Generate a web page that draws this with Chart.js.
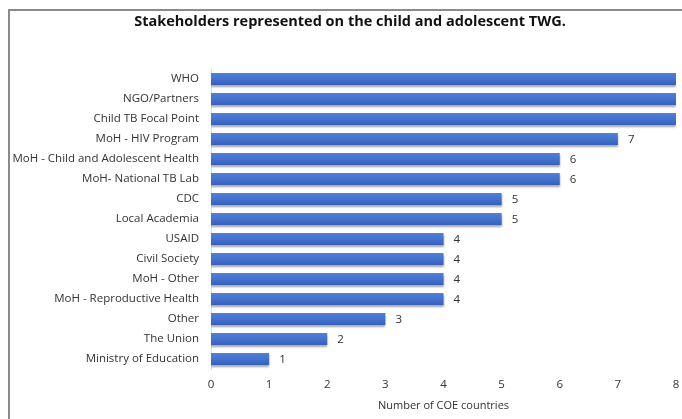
<!DOCTYPE html>
<html>
<head>
<meta charset="utf-8">
<script src="https://cdn.jsdelivr.net/npm/chart.js@4/dist/chart.umd.min.js"></script>
<style>
  html, body { margin: 0; padding: 0; background: #fff; }
  #wrap { position: relative; width: 682px; height: 419px; overflow: hidden; }
  #frame { position: absolute; left: 8px; top: 9px; width: 700px; height: 440px; border-left: 2px solid #8a8a8a; border-top: 2px solid #8a8a8a; box-sizing: border-box; }
  canvas { position: absolute; left: 0; top: 0; }
</style>
</head>
<body>
<div id="wrap">
  <div id="frame"></div>
  <canvas id="chartCanvas" width="682" height="419"></canvas>
</div>
<script>
const chartTitle = 'Stakeholders represented on the child and adolescent TWG.';
const stakeholders = [
  'WHO', 'NGO/Partners', 'Child TB Focal Point', 'MoH - HIV Program',
  'MoH - Child and Adolescent Health', 'MoH- National TB Lab', 'CDC', 'Local Academia',
  'USAID', 'Civil Society', 'MoH - Other', 'MoH - Reproductive Health',
  'Other', 'The Union', 'Ministry of Education'
];
const countries = [8, 8, 8, 7, 6, 6, 5, 5, 4, 4, 4, 4, 3, 2, 1];
const axisTicks = [0, 1, 2, 3, 4, 5, 6, 7, 8];

const FONT = '"Open Sans", "Noto Sans", sans-serif';

// title sits over the framed box, not the whole canvas, so draw it by hand
const boxTitle = {
  id: 'boxTitle',
  afterDraw(chart) {
    const c = chart.ctx;
    c.save();
    c.font = 'bold 14.5px ' + FONT;
    c.fillStyle = '#111';
    c.textAlign = 'center';
    c.textBaseline = 'middle';
    c.fillText(chartTitle, 350, 22);
    c.restore();
  }
};

// soft drop shadow under the bars, like the Excel original
const barShadow = {
  id: 'barShadow',
  beforeDatasetsDraw(chart) {
    const c = chart.ctx;
    c.save();
    c.shadowColor = 'rgba(0,0,0,0.35)';
    c.shadowBlur = 2;
    c.shadowOffsetY = 2;
  },
  afterDatasetsDraw(chart) {
    chart.ctx.restore();
  }
};

// value next to each bar end (Excel-style data labels)
const valueLabels = {
  id: 'valueLabels',
  afterDatasetsDraw(chart) {
    const c = chart.ctx;
    const meta = chart.getDatasetMeta(0);
    c.save();
    c.font = '11.5px ' + FONT;
    c.fillStyle = '#333';
    c.textBaseline = 'middle';
    meta.data.forEach((bar, i) => {
      const x = bar.x + 10;
      if (x > chart.chartArea.right) return;
      c.fillText(String(countries[i]), x, bar.y + 1);
    });
    c.restore();
  }
};

// vertical gradient inside each bar
function barFill(context) {
  const chart = context.chart;
  const yScale = chart.scales && chart.scales.y;
  if (!chart.chartArea || !yScale) return '#4472CC';
  const cy = yScale.getPixelForValue(context.dataIndex);
  if (!Number.isFinite(cy)) return '#4472CC';
  const g = chart.ctx.createLinearGradient(0, cy - 6, 0, cy + 6);
  g.addColorStop(0, '#4f80dc');
  g.addColorStop(0.5, '#4472cc');
  g.addColorStop(1, '#3560bb');
  return g;
}

const ctx = document.getElementById('chartCanvas');
window.myChart = new Chart(ctx, {
  type: 'bar',
  data: {
    labels: stakeholders,
    datasets: [{
      data: countries,
      backgroundColor: barFill,
      borderWidth: 0,
      barPercentage: 0.6,
      categoryPercentage: 1
    }]
  },
  options: {
    indexAxis: 'y',
    responsive: false,
    animation: false,
    layout: { padding: { top: 69, right: 6, bottom: 7, left: 0 } },
    plugins: {
      legend: { display: false },
      tooltip: { enabled: false },
      title: { display: false }
    },
    scales: {
      x: {
        min: 0,
        max: 8,
        afterBuildTicks: (s) => { s.ticks = axisTicks.map(v => ({ value: v })); },
        afterFit: (s) => { s.height = 43; s.paddingRight = 0; s.paddingLeft = 0; },
        grid: { display: false, drawTicks: false },
        border: { display: false },
        ticks: { color: '#333', padding: 9, font: { family: FONT, size: 11.5 } },
        title: {
          display: true,
          text: 'Number of COE countries',
          color: '#333',
          font: { family: FONT, size: 11 },
          padding: { top: 0, bottom: 0 }
        }
      },
      y: {
        afterFit: (s) => { s.width = 211; },
        grid: { display: false, drawTicks: false },
        border: { display: true, color: '#dcdcdc', width: 1 },
        ticks: { color: '#333', padding: 12, font: { family: FONT, size: 11.5 }, autoSkip: false }
      }
    }
  },
  plugins: [barShadow, valueLabels, boxTitle]
});
</script>
</body>
</html>
